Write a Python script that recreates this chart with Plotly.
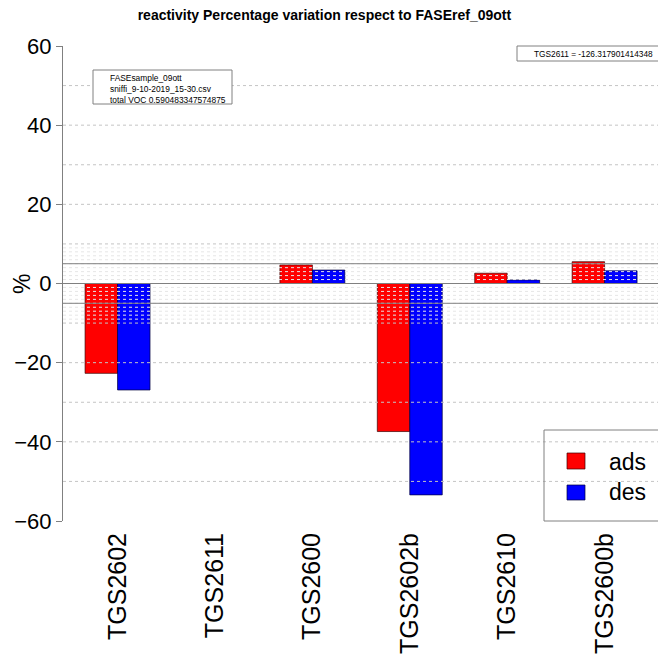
import plotly.graph_objects as go

# ---- data ----
categories = ["TGS2602", "TGS2611", "TGS2600", "TGS2602b", "TGS2610", "TGS2600b"]
ads = [-22.7, None, 4.7, -37.4, 2.6, 5.5]
des = [-26.9, None, 3.4, -53.4, 0.9, 3.2]
y_ticks = [-60, -40, -20, 0, 20, 40, 60]
major_grid = [-50, -40, -30, -20, -10, 10, 20, 30, 40, 50]
minor_grid = [v for v in range(-10, 11) if v not in (-10, 0, 10)]
threshold_lines = [-5, 5]
title = "reactivity Percentage variation respect to FASEref_09ott"
info_lines = ["FASEsample_09ott", "sniffi_9-10-2019_15-30.csv", "total VOC 0.590483347574875"]
outlier_note = "TGS2611 = -126.317901414348"
series_names = ["ads", "des"]
series_colors = ["#ff0000", "#0000ff"]

# bar positions like R barplot(beside=TRUE): group i occupies [3i+1, 3i+3]
ads_x = [3 * i + 1.5 for i in range(len(categories))]
des_x = [3 * i + 2.5 for i in range(len(categories))]
tick_x = [3 * i + 2 for i in range(len(categories))]

W, H = 658, 655
L, R, T, B = 63, 0, 46, 134
pw, ph = W - L - R, H - T - B
FONT = "Liberation Sans, Arial, sans-serif"


def px(x):
    return (x - L) / pw


def py(y):
    return (H - B - y) / ph


fig = go.Figure()
fig.add_trace(go.Bar(x=ads_x, y=ads, width=1, name=series_names[0],
                     marker=dict(color=series_colors[0], line=dict(color="rgba(60,0,0,0.7)", width=1)),
                     showlegend=False))
fig.add_trace(go.Bar(x=des_x, y=des, width=1, name=series_names[1],
                     marker=dict(color=series_colors[1], line=dict(color="rgba(0,0,60,0.7)", width=1)),
                     showlegend=False))

shapes = []
for v in minor_grid:
    shapes.append(dict(type="line", xref="paper", yref="y", x0=0, x1=1, y0=v, y1=v,
                       line=dict(color="#e6e6e6", width=1, dash="dot"), layer="above"))
for v in major_grid:
    shapes.append(dict(type="line", xref="paper", yref="y", x0=0, x1=1, y0=v, y1=v,
                       line=dict(color="#c4c4c4", width=1, dash="dot"), layer="above"))
for v in threshold_lines + [0]:
    shapes.append(dict(type="line", xref="paper", yref="y", x0=0, x1=1, y0=v, y1=v,
                       line=dict(color="#808080", width=1), layer="above"))

# info box (top-left)
shapes.append(dict(type="rect", xref="paper", yref="paper", x0=px(93), x1=px(232), y0=py(104), y1=py(70),
                   line=dict(color="#808080", width=1), fillcolor="white", layer="above"))
# outlier box (top-right)
shapes.append(dict(type="rect", xref="paper", yref="paper", x0=px(517), x1=px(680), y0=py(61), y1=py(46),
                   line=dict(color="#808080", width=1), fillcolor="white", layer="above"))
# legend box
shapes.append(dict(type="rect", xref="paper", yref="paper", x0=px(544), x1=px(680), y0=py(521), y1=py(430),
                   line=dict(color="#808080", width=1), fillcolor="rgba(0,0,0,0)", layer="above"))
# legend swatches
shapes.append(dict(type="rect", xref="paper", yref="paper", x0=px(567), x1=px(585), y0=py(469), y1=py(453),
                   line=dict(color="rgba(60,0,0,0.7)", width=1), fillcolor=series_colors[0], layer="above"))
shapes.append(dict(type="rect", xref="paper", yref="paper", x0=px(567), x1=px(585), y0=py(500), y1=py(485),
                   line=dict(color="rgba(0,0,60,0.7)", width=1), fillcolor=series_colors[1], layer="above"))

annotations = [
    dict(text="<br>".join(info_lines), xref="paper", yref="paper", x=px(108), y=py(71),
         xanchor="left", yanchor="top", align="left", showarrow=False,
         font=dict(family=FONT, size=8.4, color="black")),
    dict(text=outlier_note, xref="paper", yref="paper", x=px(532), y=py(53.5),
         xanchor="left", yanchor="middle", showarrow=False,
         font=dict(family=FONT, size=8.3, color="black")),
    dict(text=series_names[0], xref="paper", yref="paper", x=px(607), y=py(462),
         xanchor="left", yanchor="middle", showarrow=False,
         font=dict(family=FONT, size=23, color="black")),
    dict(text=series_names[1], xref="paper", yref="paper", x=px(607), y=py(492),
         xanchor="left", yanchor="middle", showarrow=False,
         font=dict(family=FONT, size=23, color="black")),
    dict(text="%", xref="paper", yref="paper", x=px(22), y=py(284), textangle=-90,
         xanchor="center", yanchor="middle", showarrow=False,
         font=dict(family=FONT, size=23, color="black")),
]

fig.update_layout(
    width=W, height=H,
    margin=dict(l=L, r=R, t=T, b=B, pad=0),
    paper_bgcolor="white", plot_bgcolor="white",
    barmode="overlay",
    title=dict(text="<b>" + title + "</b>", x=0.493, xanchor="center", y=1 - 15 / H, yanchor="middle",
               font=dict(family=FONT, size=14, color="black")),
    xaxis=dict(range=[0.32, 0.32 + pw / 32.47], tickvals=tick_x, ticktext=categories, tickangle=-90,
               showgrid=False, zeroline=False, showline=False, ticks="", ticklabelstandoff=6,
               tickfont=dict(family=FONT, size=25, color="black")),
    yaxis=dict(range=[-60, 60], tickvals=y_ticks, showgrid=False, zeroline=False,
               showline=True, linecolor="#808080", linewidth=1,
               ticks="outside", ticklen=6, tickcolor="#808080",
               tickfont=dict(family=FONT, size=22, color="black")),
    shapes=shapes, annotations=annotations,
)

fig.write_html("out.html")
